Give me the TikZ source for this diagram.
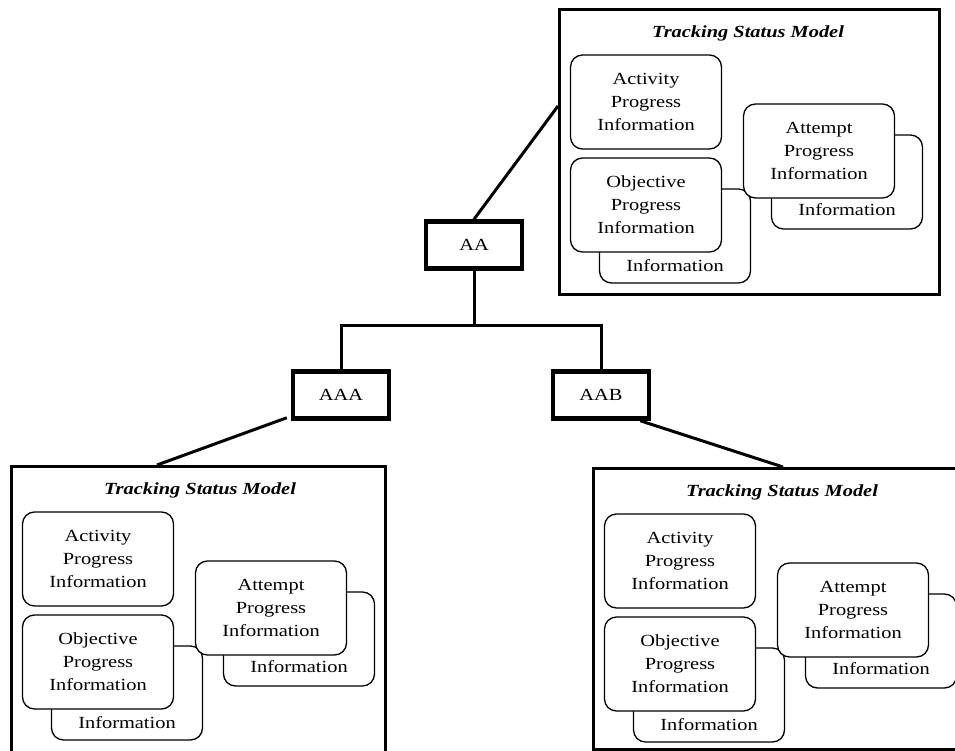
\documentclass[tikz,border=0pt]{standalone}
\usepackage{fontspec}
\setmainfont{Liberation Serif}[FakeStretch=1.2]
\usepackage{tikz}
\usetikzlibrary{positioning}

\tikzset{
  actbox/.style={draw,line width=4.5pt,minimum width=96pt,minimum height=47pt},
  tsmframe/.style={draw,line width=3.2pt,anchor=north west},
  infobox/.style={draw,fill=white,line width=1.3pt,rounded corners=12pt,
                  minimum width=151pt,minimum height=94pt,align=center},
  tree/.style={line width=3pt}
}

% one tracking status model, name / corner x / corner y / width / height
\newcommand{\trackmodel}[5]{%
  \node[tsmframe,minimum width=#4,minimum height=#5] (#1) at (#2,#3) {};
  \begin{scope}[shift={(#1.north west)}]
    \node[font=\fontsize{17}{23}\selectfont\bfseries\itshape] (#1title) at (190,25) {Tracking Status Model};
    \node[infobox] (#1objB) at (117,228) {};
    \node[above=12pt of #1objB.south,anchor=base] (#1objBtext) {Information};
    \node[infobox] (#1attB) at (289,174) {};
    \node[above=14pt of #1attB.south,anchor=base] (#1attBtext) {Information};
    \node[infobox] (#1act) at (88,94) {Activity\\Progress\\Information};
    \node[infobox] (#1obj) at (88,197) {Objective\\Progress\\Information};
    \node[infobox] (#1att) at (261,143) {Attempt\\Progress\\Information};
  \end{scope}
}

\begin{document}
\begin{tikzpicture}[x=1pt,y=-1pt,font=\fontsize{17}{23}\selectfont]
  \useasboundingbox (0,0) rectangle (955,751);
  \clip (0,0) rectangle (955,751);

  % activities
  \node[actbox] (AA) at (474,245) {AA};
  \node[actbox] (AAA) at (341,395) {AAA};
  \node[actbox] (AAB) at (601,395) {AAB};
  \draw[tree] (AA.south) -- ++(0,55) coordinate (fork) -| (AAA.north);
  \draw[tree] (fork) -| (AAB.north);

  % tracking models
  \trackmodel{tsmAA}{558}{8}{380}{285}
  \trackmodel{tsmAAA}{10}{465}{374}{290}
  \trackmodel{tsmAAB}{592}{467}{380}{281}

  \draw[tree] (AA.north) -- ([yshift=-98pt]tsmAA.north west);
  \draw[tree] ([shift={(-4pt,3pt)}]AAA.south west) -- ([xshift=147pt]tsmAAA.north west);
  \draw[tree] ([xshift=-11pt]AAB.south east) -- ([xshift=191pt]tsmAAB.north west);
\end{tikzpicture}
\end{document}
